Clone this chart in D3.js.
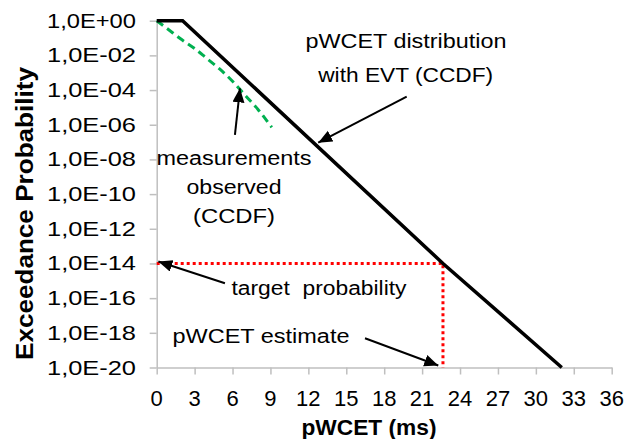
<html lang="en">
<head>
<style>
body { margin: 0; background: #fff; }
text { font-family: "Liberation Sans", Arial, sans-serif; fill: #000; }
</style>
</head>
<body>
</body>
<script type='text/javascript' src='https://d3js.org/d3.v7.min.js'></script>
<script>
var width = 629, height = 439;

// x ticks (ms) and y tick labels
const xTicks = [0,3,6,9,12,15,18,21,24,27,30,33,36];
const yTicks = [1e0,1e-2,1e-4,1e-6,1e-8,1e-10,1e-12,1e-14,1e-16,1e-18,1e-20];
const yTickLabels = ['1,0E+00','1,0E-02','1,0E-04','1,0E-06','1,0E-08','1,0E-10','1,0E-12','1,0E-14','1,0E-16','1,0E-18','1,0E-20'];

// pWCET distribution with EVT (CCDF)
const evtX = [0, 2.05, 22.65, 32.05];
const evtP = [1, 1, 1e-14, 1e-20];

// measurements observed (CCDF)
const measX = [0, 1, 2, 3, 4, 5, 6, 7, 8, 9.1];
const measP = [1, 2.8e-1, 7.9e-2, 2.5e-2, 6.3e-3, 1.6e-3, 3.2e-4, 5.0e-5, 7.9e-6, 7.1e-7];

// target probability and pWCET estimate
const targetP = 1e-14;
const pwcetEstimate = 22.65;

// setup svg
var svg = d3.select('body').append('svg').attr('width',width).attr('height',height);

var x = d3.scaleLinear().domain([0,36]).range([156.7,611.7]);
var y = d3.scaleLog().domain([1e-20,1]).range([367.5,20.7]);

var axisColor = '#bfbfbf';

// y axis
var yAxis = svg.append('g')
  .attr('transform','translate(' + x(0) + ',0)')
  .call(d3.axisLeft(y).tickValues(yTicks).tickSize(7).tickSizeOuter(0).tickFormat(''));
yAxis.selectAll('line,path').attr('stroke',axisColor).attr('stroke-width',1.5);

// x axis
var xAxis = svg.append('g')
  .attr('transform','translate(0,' + y(1e-20) + ')')
  .call(d3.axisBottom(x).tickValues(xTicks).tickSize(7).tickSizeOuter(0).tickFormat(''));
xAxis.selectAll('line,path').attr('stroke',axisColor).attr('stroke-width',1.5);

// tick labels
svg.selectAll('.ylab').data(yTicks).join('text')
  .attr('class','ylab')
  .attr('x',136).attr('y',function(d){ return y(d) + 7; })
  .attr('text-anchor','end')
  .attr('font-size',21)
  .attr('textLength',89).attr('lengthAdjust','spacingAndGlyphs')
  .text(function(d,i){ return yTickLabels[i]; });

svg.selectAll('.xlab').data(xTicks).join('text')
  .attr('class','xlab')
  .attr('x',function(d){ return x(d); }).attr('y',406)
  .attr('text-anchor','middle')
  .attr('font-size',22)
  .text(function(d){ return d; });

// axis titles
svg.append('text')
  .attr('x',369).attr('y',435)
  .attr('text-anchor','middle').attr('font-size',22).attr('font-weight','bold')
  .attr('textLength',135).attr('lengthAdjust','spacingAndGlyphs')
  .text('pWCET (ms)');

svg.append('text')
  .attr('transform','translate(33,213.5) rotate(-90)')
  .attr('text-anchor','middle').attr('font-size',23).attr('font-weight','bold')
  .attr('textLength',293).attr('lengthAdjust','spacingAndGlyphs')
  .text('Exceedance Probability');

// red dotted guides
var guide = [[0,targetP],[pwcetEstimate,targetP],[pwcetEstimate,1e-20]];
svg.append('path')
  .attr('d', d3.line().x(function(d){ return x(d[0]); }).y(function(d){ return y(d[1]); })(guide))
  .attr('fill','none').attr('stroke','#ff0000').attr('stroke-width',3)
  .attr('stroke-dasharray','3,3');

// measurements curve
var line = d3.line()
  .x(function(d){ return x(d[0]); })
  .y(function(d){ return y(d[1]); })
  .curve(d3.curveMonotoneX);

svg.append('path')
  .attr('d', line(d3.zip(measX, measP)))
  .attr('fill','none').attr('stroke','#00b050').attr('stroke-width',3)
  .attr('stroke-dasharray','8,5');

// EVT line
svg.append('path')
  .attr('d', d3.line().x(function(d){ return x(d[0]); }).y(function(d){ return y(d[1]); })(d3.zip(evtX, evtP)))
  .attr('fill','none').attr('stroke','#000').attr('stroke-width',3.5)
  .attr('stroke-linejoin','miter');

// arrows (data coordinates: ms, probability)
svg.append('defs').append('marker')
  .attr('id','head')
  .attr('markerUnits','userSpaceOnUse')
  .attr('markerWidth',16).attr('markerHeight',14)
  .attr('refX',14).attr('refY',6)
  .attr('orient','auto')
  .append('path').attr('d','M0,0 L14,6 L0,12 Z').attr('fill','#000');

var arrows = [
  [[19.78, 4.2e-5], [12.78, 9.3e-8]],
  [[6.19, 2.6e-7], [6.59, 1.26e-4]],
  [[5.4, 7.2e-16], [0.13, 1.3e-14]],
  [[16.48, 4.9e-19], [22.28, 1.3e-20]]
];
svg.selectAll('.arrow').data(arrows).join('line')
  .attr('class','arrow')
  .attr('x1',function(d){ return x(d[0][0]); }).attr('y1',function(d){ return y(d[0][1]); })
  .attr('x2',function(d){ return x(d[1][0]); }).attr('y2',function(d){ return y(d[1][1]); })
  .attr('stroke','#000').attr('stroke-width',2)
  .attr('marker-end','url(#head)');

// annotation texts
var notes = [
  {t:'pWCET distribution', x:406, y:48.3, w:201},
  {t:'with EVT (CCDF)', x:405.7, y:81.7, w:175},
  {t:'measurements', x:234, y:165, w:155},
  {t:'observed', x:234, y:194, w:95},
  {t:'(CCDF)', x:234, y:223, w:82},
  {t:'target  probability', x:319, y:295, w:175},
  {t:'pWCET estimate', x:261, y:343, w:177}
];
svg.selectAll('.note').data(notes).join('text')
  .attr('class','note')
  .attr('x',function(d){ return d.x; }).attr('y',function(d){ return d.y; })
  .attr('text-anchor','middle').attr('font-size',20)
  .attr('textLength',function(d){ return d.w; }).attr('lengthAdjust','spacingAndGlyphs')
  .attr('xml:space','preserve')
  .text(function(d){ return d.t; });

console.log('ready..');
</script>
</html>
